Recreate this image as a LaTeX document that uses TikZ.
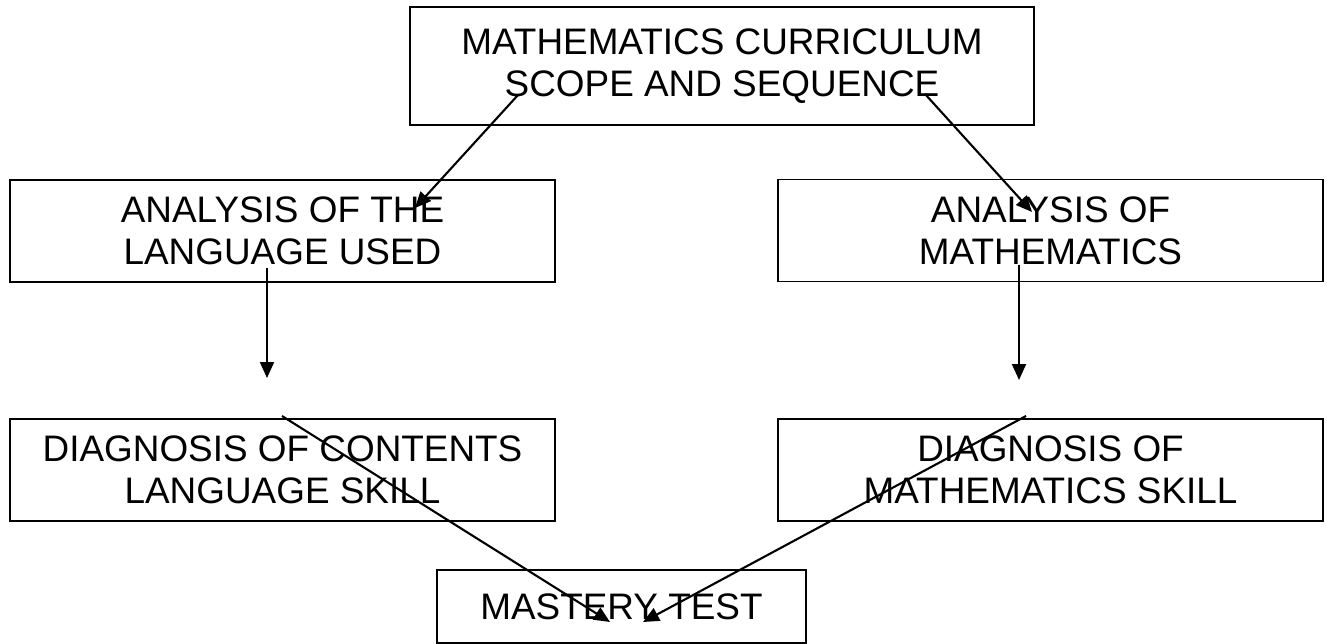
\documentclass[tikz,border=0pt]{standalone}
\usepackage{fontspec}
\setmainfont{Liberation Sans}
\usetikzlibrary{arrows.meta}

\begin{document}
\begin{tikzpicture}[x=0.02cm, y=-0.02cm,
    stagebox/.style={draw, line width=1.1pt, inner sep=0pt, align=center,
      font=\fontsize{21}{23.9}\selectfont,
      minimum width=10.9cm, minimum height=2.04cm},
    flow/.style={-{Triangle[length=0.32cm, width=0.28cm]}, line width=1.2pt}]
  \fill[white] (0,0) rectangle (1327,644);
  \useasboundingbox (0,0) rectangle (1327,644);

  % boxes
  \node[stagebox, minimum width=12.48cm, minimum height=2.36cm] (scope) at (722,66)
    {MATHEMATICS CURRICULUM\\SCOPE AND SEQUENCE};
  \node[stagebox] (langan) at (282.5,231) {ANALYSIS OF THE\\LANGUAGE USED};
  \node[stagebox] (mathan) at (1050.5,230.5) {ANALYSIS OF\\MATHEMATICS};
  \node[stagebox] (langdg) at (282.5,470) {DIAGNOSIS OF CONTENTS\\LANGUAGE SKILL};
  \node[stagebox] (mathdg) at (1050.5,470) {DIAGNOSIS OF\\MATHEMATICS SKILL};
  \node[stagebox, minimum width=7.38cm, minimum height=1.46cm] (mastery) at (621.5,606.5)
    {MASTERY TEST};

  % arrow ends
  \coordinate (scope-l) at (518,95);
  \coordinate (scope-r) at (925,94);
  \coordinate (langan-in) at (415,208);
  \coordinate (mathan-in) at (1032,212);
  \coordinate (langan-out) at (267,268);
  \coordinate (mathan-out) at (1019,265);
  \coordinate (langdg-in) at (267,378);
  \coordinate (mathdg-in) at (1019,380);
  \coordinate (langdg-out) at (282,416);
  \coordinate (mathdg-out) at (1026,416);
  \coordinate (mastery-l) at (610,622);
  \coordinate (mastery-r) at (643,622);

  \draw[flow] (scope-l) -- (langan-in);
  \draw[flow] (scope-r) -- (mathan-in);
  \draw[flow] (langan-out) -- (langdg-in);
  \draw[flow] (mathan-out) -- (mathdg-in);
  \draw[flow] (langdg-out) -- (mastery-l);
  \draw[flow] (mathdg-out) -- (mastery-r);
\end{tikzpicture}
\end{document}
